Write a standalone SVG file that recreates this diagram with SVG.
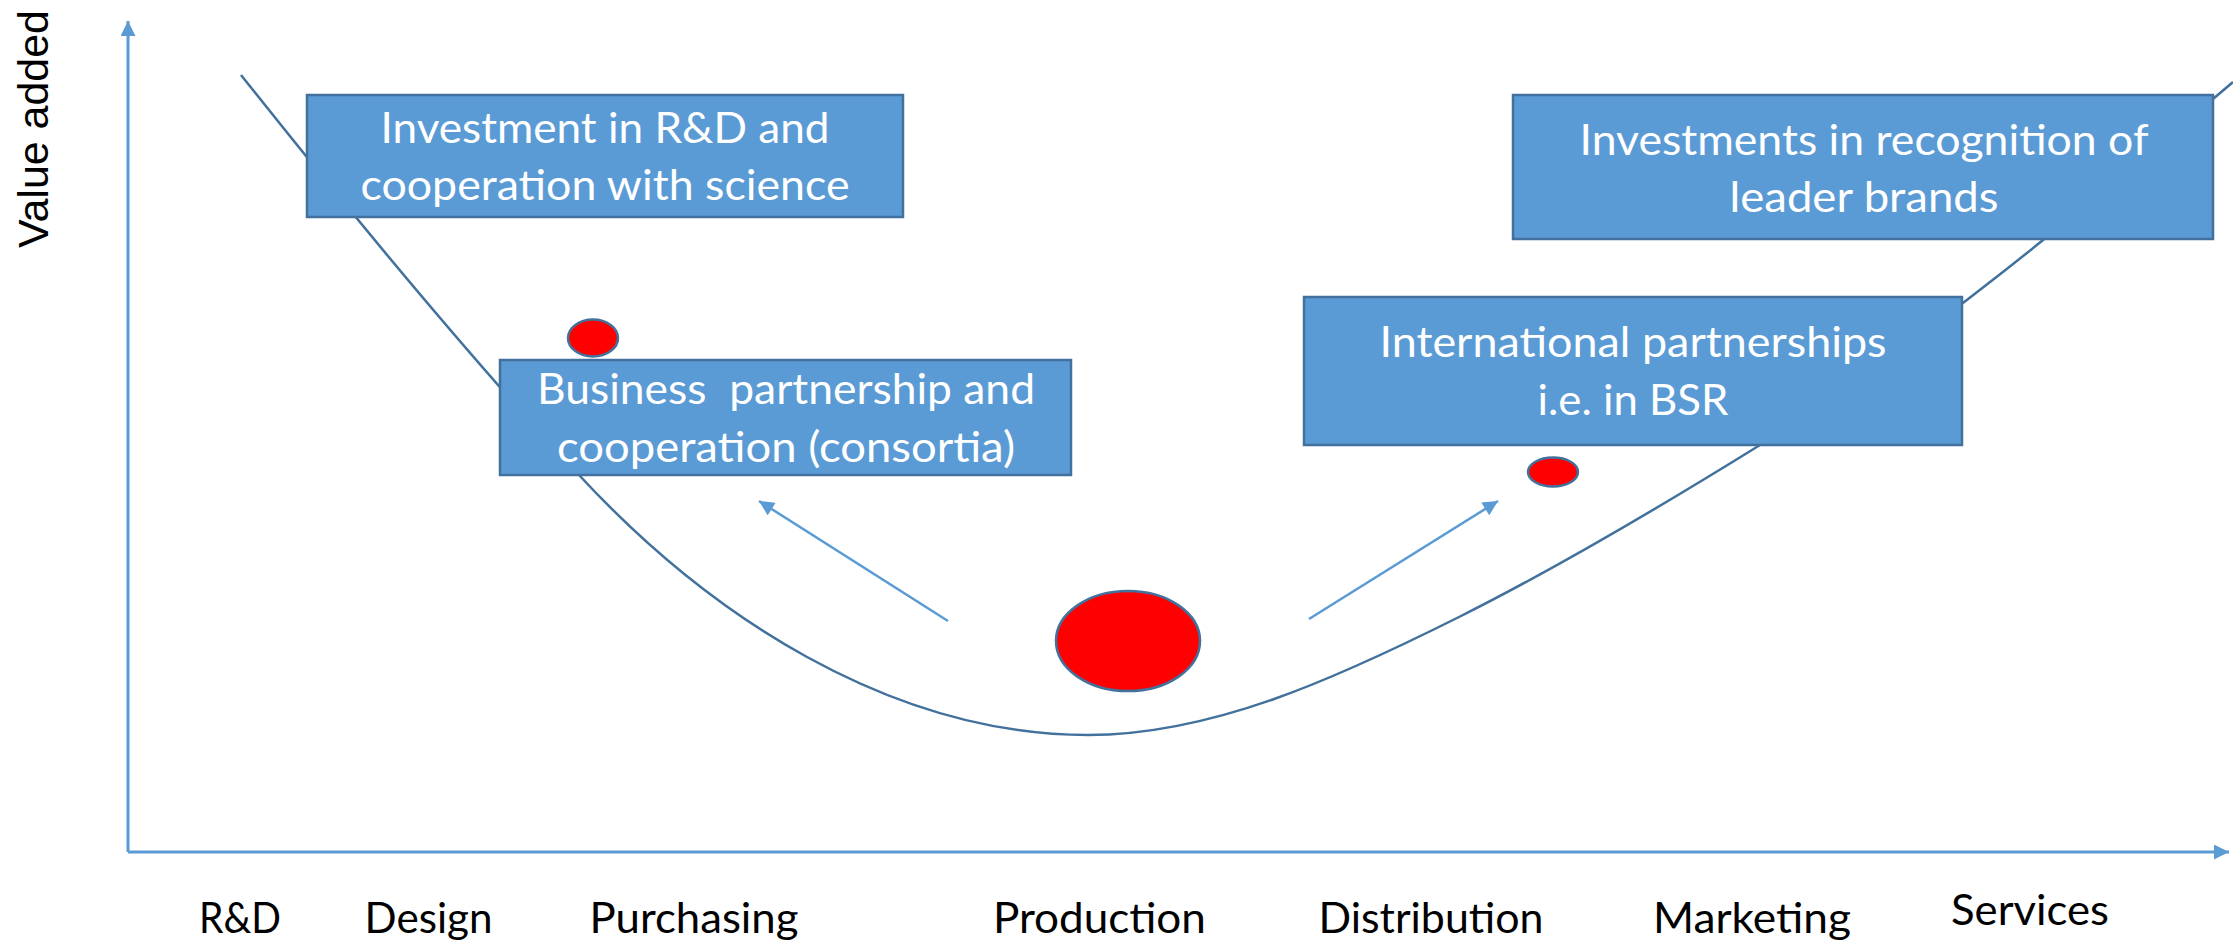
<svg xmlns="http://www.w3.org/2000/svg" width="2233" height="943" viewBox="0 0 2233 943">
<style>
.box{fill:#5B9BD5;stroke:#41719C;stroke-width:2.5}
.bt{font-family:Lato,"Liberation Sans",sans-serif;font-size:43px;fill:#FFFFFF;text-anchor:middle;white-space:pre}
.ax{font-family:Lato,"Liberation Sans",sans-serif;font-size:43px;fill:#000000;text-anchor:middle}
.dot{fill:#FF0000;stroke:#41719C;stroke-width:2.5}
.axis{stroke:#5B9BD5;stroke-width:3;fill:none}
.arr{stroke:#5B9BD5;stroke-width:2.5;fill:none}
.curve{stroke:#41719C;stroke-width:2.5;fill:none}
</style>
<defs>
<marker id="head" viewBox="0 0 10 10" refX="10" refY="5" markerWidth="16" markerHeight="15" markerUnits="userSpaceOnUse" orient="auto">
<path d="M0,0 L10,5 L0,10 z" fill="#5B9BD5"/>
</marker>
</defs>
<rect width="2233" height="943" fill="#FFFFFF"/>
<g id="axes">
<line class="axis" x1="128" y1="852" x2="128" y2="21" marker-end="url(#head)"/>
<line class="axis" x1="128" y1="852" x2="2229" y2="852" marker-end="url(#head)"/>
<text transform="translate(48,129) rotate(-90)" font-family="'Liberation Sans',Arial,sans-serif" font-size="42" text-anchor="middle" fill="#000000" textLength="238" lengthAdjust="spacingAndGlyphs">Value added</text>
<text class="ax" x="240" y="933" textLength="82" lengthAdjust="spacingAndGlyphs">R&amp;D</text>
<text class="ax" x="428.6" y="933" textLength="128" lengthAdjust="spacingAndGlyphs">Design</text>
<text class="ax" x="694" y="933" textLength="209" lengthAdjust="spacingAndGlyphs">Purchasing</text>
<text class="ax" x="1099.4" y="933" textLength="213" lengthAdjust="spacingAndGlyphs">Production</text>
<text class="ax" x="1431" y="933" textLength="225" lengthAdjust="spacingAndGlyphs">Distribution</text>
<text class="ax" x="1752" y="933" textLength="198" lengthAdjust="spacingAndGlyphs">Marketing</text>
<text class="ax" x="2030" y="925" textLength="158" lengthAdjust="spacingAndGlyphs">Services</text>
</g>
<g id="smile-curve">
<path class="curve" d="M241,75 C353.7,217 466.3,353.3 579,475 C655,557.1 731,615.2 807,657 C900.7,708.5 994.3,735 1088,735 C1211.7,735 1335.3,678.9 1459,617 C1559.3,566.8 1659.7,507.2 1760,445 C1917.7,347.2 2075.3,216 2233,82"/>
</g>
<g id="connectors">
<line class="arr" x1="948" y1="621" x2="759" y2="501" marker-end="url(#head)"/>
<line class="arr" x1="1309" y1="619" x2="1498" y2="501" marker-end="url(#head)"/>
</g>
<g id="node-rd">
<rect class="box" x="307" y="95" width="596" height="122"/>
<text class="bt" x="605" y="143" textLength="449" lengthAdjust="spacingAndGlyphs">Investment in R&amp;D and</text>
<text class="bt" x="605" y="200" textLength="489" lengthAdjust="spacingAndGlyphs">cooperation with science</text>
</g>
<g id="node-business">
<rect class="box" x="500" y="360" width="571" height="115"/>
<text class="bt" x="786" y="404" textLength="498" lengthAdjust="spacingAndGlyphs">Business  partnership and</text>
<text class="bt" x="786" y="462" textLength="458" lengthAdjust="spacingAndGlyphs">cooperation (consortia)</text>
</g>
<g id="node-international">
<rect class="box" x="1304" y="297" width="658" height="148"/>
<text class="bt" x="1633" y="357" textLength="507" lengthAdjust="spacingAndGlyphs">International partnerships</text>
<text class="bt" x="1633" y="415" textLength="191" lengthAdjust="spacingAndGlyphs">i.e. in BSR</text>
</g>
<g id="node-brands">
<rect class="box" x="1513" y="95" width="700" height="144"/>
<text class="bt" x="1864" y="155" textLength="569" lengthAdjust="spacingAndGlyphs">Investments in recognition of</text>
<text class="bt" x="1864" y="212" textLength="269" lengthAdjust="spacingAndGlyphs">leader brands</text>
</g>
<g id="node-dot-small-left">
<ellipse class="dot" cx="593" cy="338" rx="25" ry="18.5"/>
</g>
<g id="node-dot-production">
<ellipse class="dot" cx="1128" cy="641" rx="72" ry="50"/>
</g>
<g id="node-dot-small-right">
<ellipse class="dot" cx="1553" cy="472" rx="25" ry="14.5"/>
</g>
</svg>
